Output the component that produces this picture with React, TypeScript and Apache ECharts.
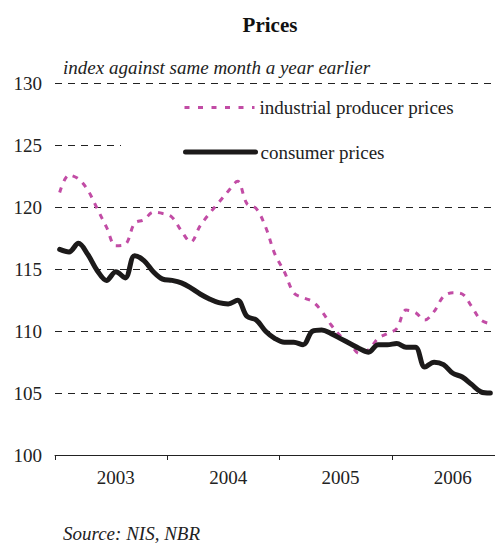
import React, { useEffect, useRef } from "react";
import * as echarts from "echarts";

const years = ["2003", "2004", "2005", "2006"];
const monthsPerYear = [12, 12, 12, 11];
const categories: string[] = [];
years.forEach((y, yi) => {
  for (let m = 1; m <= monthsPerYear[yi]; m++) categories.push(`${y}-${m < 10 ? "0" + m : m}`);
});

const consumerPrices = [
  116.6, 116.4, 117.1, 116.2, 114.9, 114.1, 114.8, 114.3, 116.1, 115.7, 114.8, 114.2,
  114.1, 113.9, 113.5, 113.0, 112.6, 112.3, 112.2, 112.5, 111.2, 110.9, 110.0, 109.4,
  109.1, 109.1, 108.9, 110.0, 110.1, 109.8, 109.4, 109.0, 108.6, 108.3, 108.9, 108.9,
  109.0, 108.7, 108.7, 107.1, 107.5, 107.3, 106.6, 106.3, 105.7, 105.1, 105.0,
];

const industrialPrices = [
  121.2, 122.6, 122.3, 121.4, 119.9, 118.4, 116.9, 117.0, 118.7, 119.0, 119.6, 119.5,
  119.2, 118.1, 117.2, 118.5, 119.5, 120.4, 121.3, 122.1, 120.3, 119.9, 118.4, 116.2,
  114.8, 113.1, 112.7, 112.4, 111.6, 110.5, 109.6, 109.0, 108.2, 108.5, 109.4, 109.8,
  110.2, 111.7, 111.5, 110.9, 111.6, 112.8, 113.1, 113.0, 112.0, 110.9, 110.6,
];

const yTicks = { min: 100, max: 130, interval: 5 };

const FONT = "'Liberation Serif', 'Times New Roman', serif";
const MAGENTA = "#c24ca5";
const BLACK = "#1c1a1a";

export default function App() {
  const ref = useRef<HTMLDivElement>(null);
  useEffect(() => {
    if (!ref.current) return;
    const chart = echarts.init(ref.current, undefined, { renderer: "svg" });
    const legendCommon = {
      left: 183,
      padding: 0,
      itemWidth: 70,
      itemHeight: 20,
      itemStyle: { opacity: 0, borderWidth: 0 },
      textStyle: { fontFamily: FONT, fontSize: 19, color: "#222", lineHeight: 20 },
    };
    chart.setOption({
      animation: false,
      backgroundColor: "#ffffff",
      textStyle: { fontFamily: FONT },
      grid: { left: 55, top: 83.5, width: 443.7, height: 371.5, containLabel: false },
      xAxis: {
        type: "category",
        data: categories,
        boundaryGap: true,
        axisLine: { show: true, lineStyle: { color: "#222", width: 1 } },
        axisTick: {
          show: true,
          length: 5,
          interval: (i: number) => i % 12 === 0,
          lineStyle: { color: "#222" },
        },
        axisLabel: {
          interval: (i: number) => i % 12 === 6,
          formatter: (v: string) => v.slice(0, 4),
          fontFamily: FONT,
          fontSize: 19,
          color: "#222",
          margin: 13,
        },
        splitLine: { show: false },
      },
      yAxis: {
        type: "value",
        min: yTicks.min,
        max: yTicks.max,
        interval: yTicks.interval,
        axisLine: { show: false },
        axisTick: { show: false },
        axisLabel: { fontFamily: FONT, fontSize: 19, color: "#222", margin: 13 },
        splitLine: { show: true, lineStyle: { color: "#222", width: 1, type: [7, 6] } },
      },
      legend: [
        {
          ...legendCommon,
          data: ["industrial producer prices"],
          top: 97.5,
          lineStyle: { width: 3, color: MAGENTA, type: [5, 8.5] },
        },
        {
          ...legendCommon,
          data: ["consumer prices"],
          top: 142,
          lineStyle: { width: 5, color: BLACK, cap: "round" },
        },
      ],
      graphic: [
        { type: "rect", z: 1, shape: { x: 121, y: 138, width: 380, height: 14 }, style: { fill: "#ffffff" } },
        {
          type: "text", x: 270, y: 25,
          style: { text: "Prices", font: `bold 21px ${FONT}`, fill: "#111", textAlign: "center", textVerticalAlign: "middle" },
        },
        {
          type: "text", x: 63, y: 67.5,
          style: { text: "index against same month a year earlier", font: `italic 19px ${FONT}`, fill: "#222", textAlign: "left", textVerticalAlign: "middle" },
        },
        {
          type: "text", x: 63, y: 533.5,
          style: { text: "Source: NIS, NBR", font: `italic 19px ${FONT}`, fill: "#222", textAlign: "left", textVerticalAlign: "middle" },
        },
      ],
      series: [
        {
          name: "industrial producer prices",
          type: "line",
          data: industrialPrices,
          smooth: 0.35,
          symbol: "none",
          lineStyle: { color: MAGENTA, width: 3, type: [5.5, 6.5] },
          itemStyle: { color: MAGENTA },
          z: 2,
        },
        {
          name: "consumer prices",
          type: "line",
          data: consumerPrices,
          smooth: 0.35,
          symbol: "none",
          lineStyle: { color: BLACK, width: 5, cap: "round", join: "round" },
          itemStyle: { color: BLACK },
          z: 3,
        },
      ],
    });
    return () => chart.dispose();
  }, []);
  return <div ref={ref} style={{ position: "fixed", left: 0, top: 0, width: 495, height: 544 }} />;
}
